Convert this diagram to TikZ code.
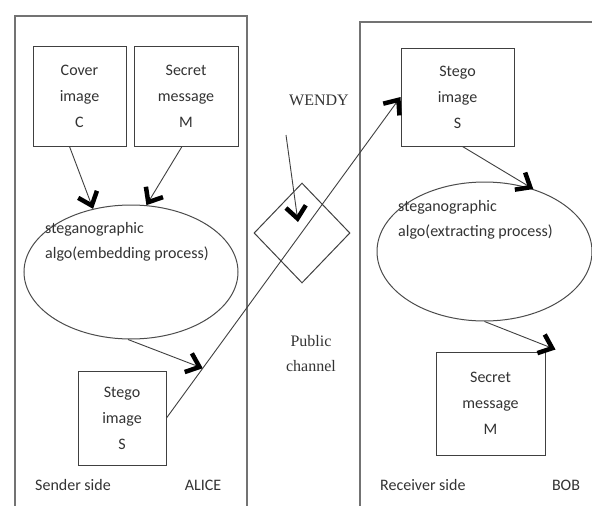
\documentclass[tikz,border=0pt]{standalone}
\usepackage{fontspec}
\setmainfont{Carlito}
\newfontfamily\serifw{Liberation Serif}
\usetikzlibrary{arrows.meta,shapes.geometric,calc}
\begin{document}
\begin{tikzpicture}[x=1pt,y=-1pt,
  box/.style={draw=black!75, line width=1pt, inner sep=0pt, align=center, text=black!80, font=\fontsize{16}{26}\selectfont},
  panel/.style={draw=black!55, line width=1.6pt},
  oval/.style={draw=black!70, line width=1pt, ellipse, inner sep=0pt},
  lbl/.style={text=black!80, font=\fontsize{16}{25}\selectfont, inner sep=0pt, align=left},
  slbl/.style={text=black!80, font=\serifw\fontsize{16}{25}\selectfont, inner sep=0pt, align=center},
  wire/.style={draw=black!75, line width=0.9pt},
  conn/.style={wire, -{Straight Barb[length=12pt,width=20pt,line width=4.5pt,color=black]}}]
\fill[white] (0,0) rectangle (592,506);
\useasboundingbox (0,0) rectangle (592,506);
% panels
\draw[panel] (15,506) -- (15,16) -- (247,16) -- (247,506);
\draw[panel] (360,506) -- (360,22) -- (592,22);
% sender side
\node[box, minimum width=93pt, minimum height=100pt] (cover) at (79.5,96) {Cover\\image\\C};
\node[box, minimum width=104pt, minimum height=100pt] (secretL) at (186,96) {Secret\\message\\M};
\node[oval, minimum width=214pt, minimum height=134pt] (embed) at (131,272) {};
\node[lbl, anchor=west] (embedtxt) at (45,242) {steganographic\\algo(embedding process)};
\node[box, minimum width=88pt, minimum height=94pt] (stegoL) at (122,418) {Stego\\image\\S};
\node[lbl, anchor=west] (sender) at (35,485) {Sender side};
\node[lbl] (alice) at (203,485) {ALICE};
% channel
\node[draw=black!75, line width=1pt, diamond, aspect=0.96, minimum width=96pt, minimum height=100pt, inner sep=0pt] (wendybox) at (302,233) {};
\node[slbl] (wendy) at (319,100) {WENDY};
\node[slbl] (public) at (311,354) {Public\\channel};
\coordinate (wtail) at (286,135);
\coordinate (wtip) at (298,222);
% receiver side
\node[box, minimum width=113pt, minimum height=98pt] (stegoR) at (457.5,97) {Stego\\image\\S};
\node[oval, minimum width=215pt, minimum height=139pt] (extract) at (484.5,251.5) {};
\node[lbl, anchor=west] (extracttxt) at (398,219.5) {steganographic\\algo(extracting process)};
\node[box, minimum width=109pt, minimum height=103pt] (secretR) at (490.5,403.5) {Secret\\message\\M};
\node[lbl, anchor=west] (receiver) at (380,485) {Receiver side};
\node[lbl] (bob) at (566,485) {BOB};
% connectors
\coordinate (hit) at ($(stegoL.east)!0.155!(stegoR.west)$);
\draw[conn] ([xshift=-10pt]cover.south) -- (embed.121);
\draw[conn] ([xshift=-4pt]secretL.south) -- (embed.77);
\draw[conn] ([xshift=-3pt]embed.south) -- (hit);
\draw[conn] (stegoL.east) -- (stegoR.west);
\draw[conn] (wtail) -- (wtip);
\draw[conn] ([xshift=5pt]stegoR.south) -- (extract.52);
\draw[conn] (extract.south) -- ([xshift=10pt,yshift=2pt]secretR.north east);
\end{tikzpicture}
\end{document}
